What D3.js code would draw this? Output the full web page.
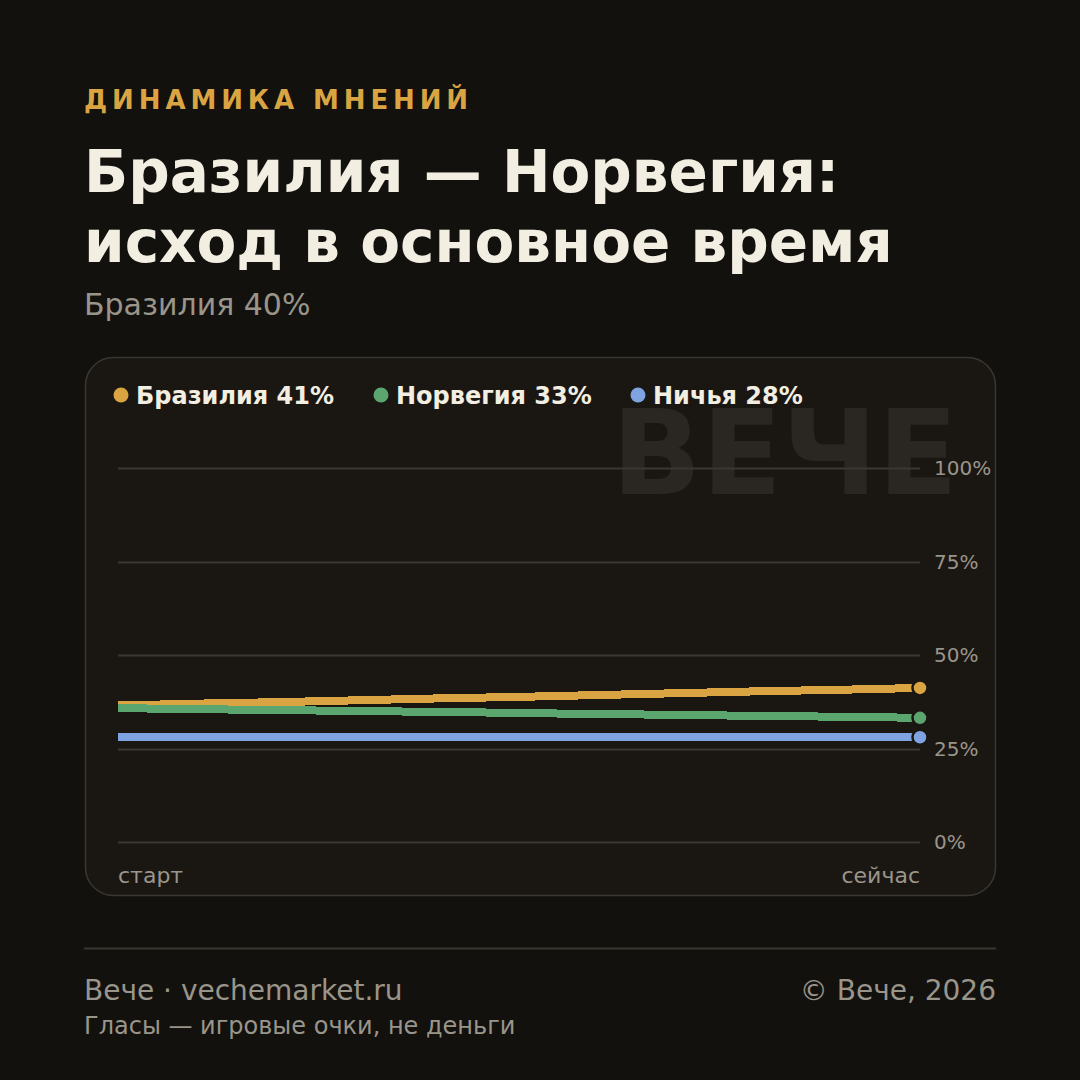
<!DOCTYPE html>
<meta charset="utf-8">
<style>
  html, body { margin: 0; padding: 0; background: #12110e; }
  svg { display: block; font-family: "DejaVu Sans", sans-serif; }
</style>
<svg width="1080" height="1080"></svg>
<script src="https://d3js.org/d3.v7.min.js"></script>
<script>

// data
var steps = d3.range(11); // from "старт" to "сейчас"
var brazil = [36.5, 37.0, 37.4, 37.9, 38.4, 38.8, 39.3, 39.8, 40.3, 40.7, 41.2];
var norway = [35.8, 35.5, 35.3, 35.0, 34.8, 34.5, 34.2, 34.0, 33.7, 33.5, 33.2];
var draw   = [28.0, 28.0, 28.0, 28.0, 28.0, 28.0, 28.0, 28.0, 28.0, 28.0, 28.0];
var seriesNames = ["Бразилия 41%", "Норвегия 33%", "Ничья 28%"];
var seriesColors = ["#d9a441", "#5aa66e", "#7fa3e0"];
var yTicks = [0, 25, 50, 75, 100];
var xLabels = ["старт", "сейчас"];

var svg = d3.select("svg"), width = +svg.attr("width"), height = +svg.attr("height");
var muted = "#9a958a", light = "#f2eee2";

svg.append("rect").attr("width", width).attr("height", height).attr("fill", "#12110e");

// header
svg.append("text").attr("x", 84).attr("y", 109)
  .attr("font-size", 26).attr("font-weight", "bold").attr("letter-spacing", 4.9)
  .attr("fill", "#d9a441").text("ДИНАМИКА МНЕНИЙ");
svg.append("text").attr("x", 84).attr("y", 192)
  .attr("font-size", 58).attr("font-weight", "bold").attr("fill", light)
  .text("Бразилия — Норвегия:");
svg.append("text").attr("x", 84).attr("y", 262)
  .attr("font-size", 58).attr("font-weight", "bold").attr("fill", light)
  .text("исход в основное время");
svg.append("text").attr("x", 84).attr("y", 315)
  .attr("font-size", 30).attr("fill", muted).text("Бразилия 40%");

// card
svg.append("rect").attr("x", 85.5).attr("y", 357.5).attr("width", 910).attr("height", 538)
  .attr("rx", 28).attr("fill", "#1a1713").attr("stroke", "#3a3630").attr("stroke-width", 1.5);

// watermark
svg.append("text").attr("x", 958).attr("y", 494).attr("text-anchor", "end")
  .attr("font-size", 118).attr("font-weight", "bold").attr("fill", "#2a2722")
  .text("ВЕЧЕ");

var x = d3.scaleLinear().domain(d3.extent(steps)).range([118, 920]);
var y = d3.scaleLinear().domain([0, 100]).range([842, 468]);

// grid
var grid = svg.append("g");
grid.selectAll("line").data(yTicks).enter().append("line")
  .attr("x1", x.range()[0]).attr("x2", x.range()[1])
  .attr("y1", function(d) { return Math.round(y(d)) + 0.5; })
  .attr("y2", function(d) { return Math.round(y(d)) + 0.5; })
  .attr("stroke", "#3a3630").attr("stroke-width", 2);
grid.selectAll("text").data(yTicks).enter().append("text")
  .attr("x", 934).attr("y", function(d) { return y(d); }).attr("dy", "0.35em")
  .attr("font-size", 20).attr("fill", muted)
  .text(function(d) { return d + "%"; });

// x labels
svg.append("text").attr("x", x.range()[0]).attr("y", 883)
  .attr("font-size", 22).attr("fill", muted).text(xLabels[0]);
svg.append("text").attr("x", x.range()[1]).attr("y", 883).attr("text-anchor", "end")
  .attr("font-size", 22).attr("fill", muted).text(xLabels[1]);

// lines
var allSeries = [brazil, norway, draw];
var line = d3.line().x(function(d, i) { return x(steps[i]); }).y(function(d) { return y(d); });

svg.append("g").selectAll("path").data(allSeries).enter().append("path")
  .attr("d", line).attr("fill", "none")
  .attr("stroke", function(d, i) { return seriesColors[i]; })
  .attr("stroke-width", 8).attr("shape-rendering", "crispEdges");

svg.append("g").selectAll("circle").data(allSeries).enter().append("circle")
  .attr("cx", x(steps[steps.length - 1]))
  .attr("cy", function(d) { return y(d[d.length - 1]); })
  .attr("r", 7.5).attr("fill", function(d, i) { return seriesColors[i]; })
  .attr("stroke", "#1a1713").attr("stroke-width", 2.5);

// legend
var legX = [121, 381, 638];
var leg = svg.append("g").selectAll("g").data(seriesNames).enter().append("g")
  .attr("transform", function(d, i) { return "translate(" + legX[i] + ",395)"; });
leg.append("circle").attr("r", 7.5).attr("fill", function(d, i) { return seriesColors[i]; });
leg.append("text").attr("x", 15).attr("y", 8.5)
  .attr("font-size", 24).attr("font-weight", "bold").attr("fill", light)
  .text(function(d) { return d; });

// footer
svg.append("line").attr("x1", 84).attr("x2", 996).attr("y1", 948.5).attr("y2", 948.5)
  .attr("stroke", "#3a3630").attr("stroke-width", 2);
svg.append("text").attr("x", 84).attr("y", 1000)
  .attr("font-size", 28).attr("fill", muted).text("Вече · vechemarket.ru");
svg.append("text").attr("x", 996).attr("y", 1000).attr("text-anchor", "end")
  .attr("font-size", 28).attr("fill", muted).text("© Вече, 2026");
svg.append("text").attr("x", 84).attr("y", 1034)
  .attr("font-size", 24).attr("fill", muted).text("Гласы — игровые очки, не деньги");

</script>
